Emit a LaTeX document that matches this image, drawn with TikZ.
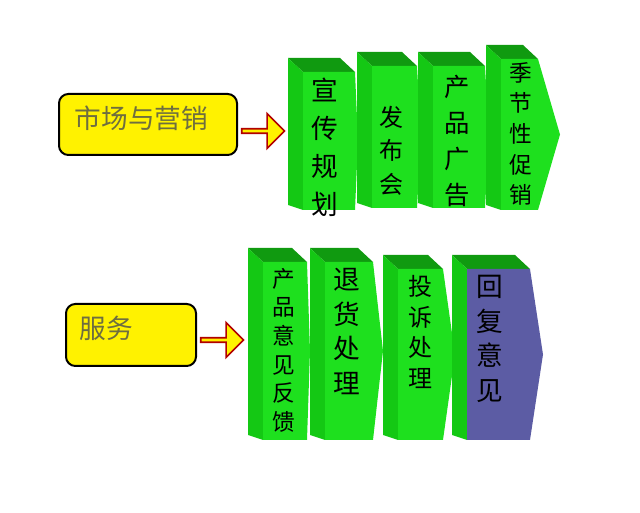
\documentclass[tikz,border=0pt]{standalone}
\usepackage{fontspec}
\newfontfamily\cjk{Noto Sans CJK SC}
\usepackage{tikz}
\usetikzlibrary{positioning, shapes.arrows, calc}
\definecolor{frontgreen}{HTML}{1EE01E}
\definecolor{sidegreen}{HTML}{14C814}
\definecolor{topgreen}{HTML}{109A10}
\definecolor{replyblue}{HTML}{5C5CA4}
\definecolor{labelgray}{HTML}{6E6E40}
\tikzset{
    headbox/.style={draw=black, line width=1.5pt, fill=yellow, rounded corners=7pt,
      anchor=north west, inner sep=0pt, font=\cjk\fontsize{20}{24}\selectfont,
      text=labelgray},
    goarrow/.style={single arrow, draw=red!70!black, fill=yellow, line width=1.2pt,
      minimum height=32pt, minimum width=26pt, single arrow head extend=4pt,
      inner sep=0pt},
    blocktext/.style={align=center, inner sep=0pt, font=\cjk},
}
% #1 left, #2 top, #3 right, #4 tip, #5 bottom, #6 front colour, #7 name
\newcommand{\Block}[7]{
    \fill[topgreen] (#1,#2) -- (#3-15,#2) -- (#3,#2+14) -- (#1+15,#2+14) -- cycle;
    \fill[sidegreen] (#1,#2) -- (#1+15,#2+14) -- (#1+15,#5) -- (#1,#5-5) -- cycle;
    \fill[#6] (#1+15,#2+14) -- (#3,#2+14) -- (#3+#4,{(#2+14+#5)/2}) -- (#3,#5) -- (#1+15,#5) -- cycle;
    \coordinate (#7) at ({(#1+15+#3)/2},#2+14);
}

\begin{document}
\begin{tikzpicture}[x=0.75pt, y=-0.75pt]
    \useasboundingbox (0,0) rectangle (640,513);

    % left labels
    \node[headbox, minimum width=133.5pt, minimum height=45.75pt] (market) at (58,93) {};
    \node[anchor=west, font=\cjk\fontsize{20}{24}\selectfont, text=labelgray] (marketlbl) at (70,118) {市场与营销};
    \node[headbox, minimum width=97.5pt, minimum height=46.5pt] (service) at (65,303) {};
    \node[anchor=west, font=\cjk\fontsize{20}{24}\selectfont, text=labelgray] (servicelbl) at (75,328) {服务};

    \node[goarrow] (arr1) at (262,131) {};
    \node[goarrow] (arr2) at (221,340) {};

    % top row
    \Block{288}{58}{355}{3}{210}{frontgreen}{t1}
    \Block{357}{52}{417}{4}{208}{frontgreen}{t2}
    \Block{418}{52}{485}{4}{208}{frontgreen}{t3}
    \Block{486}{45}{538}{22}{210}{frontgreen}{t4}

    \node[blocktext, font=\cjk\fontsize{20}{28.5}\selectfont, anchor=north] (t1txt) at (325,78) {宣\\传\\规\\划};
    \node[blocktext, font=\cjk\fontsize{18}{25}\selectfont, anchor=north] (t2txt) at (391,106) {发\\布\\会};
    \node[blocktext, font=\cjk\fontsize{19}{27}\selectfont, anchor=north] (t3txt) at (457,75) {产\\品\\广\\告};
    \node[blocktext, font=\cjk\fontsize{17}{23}\selectfont, anchor=north] (t4txt) at (521,62) {季\\节\\性\\促\\销};

    % bottom row
    \Block{248}{248}{307}{3}{440}{frontgreen}{b1}
    \Block{310}{248}{373}{10}{440}{frontgreen}{b2}
    \Block{383}{255}{443}{12}{440}{frontgreen}{b3}
    \Block{452}{255}{530}{13}{440}{replyblue}{b4}

    \node[blocktext, font=\cjk\fontsize{17}{21.5}\selectfont, anchor=north] (b1txt) at (284,268) {产\\品\\意\\见\\反\\馈};
    \node[blocktext, font=\cjk\fontsize{20}{26}\selectfont, anchor=north] (b2txt) at (347,268) {退\\货\\处\\理};
    \node[blocktext, font=\cjk\fontsize{18}{23}\selectfont, anchor=north] (b3txt) at (420,275) {投\\诉\\处\\理};
    \node[blocktext, font=\cjk\fontsize{20}{26}\selectfont, anchor=north] (b4txt) at (490,275) {回\\复\\意\\见};
\end{tikzpicture}
\end{document}
